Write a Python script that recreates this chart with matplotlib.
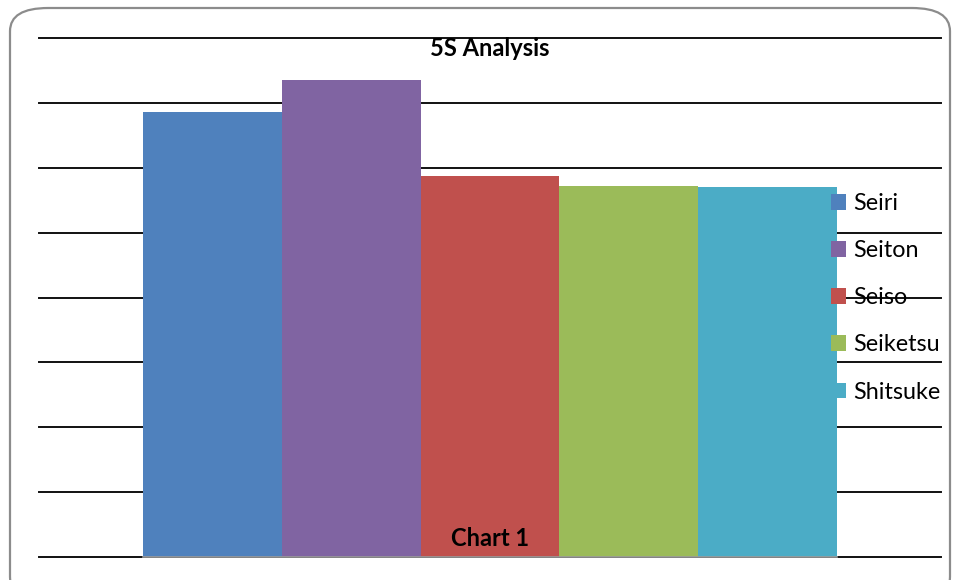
import matplotlib
matplotlib.use("Agg")
import matplotlib.pyplot as plt
from matplotlib.patches import FancyBboxPatch

# 5S scores (gridline units)
categories = ["Seiri", "Seiton", "Seiso", "Seiketsu", "Shitsuke"]
values = [6.86, 7.35, 5.87, 5.72, 5.70]
colors = ["#4F81BD", "#8064A2", "#C0504D", "#9BBB59", "#4BACC6"]

plt.rcParams['font.family'] = ['Lato', 'DejaVu Sans']

W, H = 957, 580
fig = plt.figure(figsize=(W / 100, H / 100), dpi=100)

# rounded chart border
border = FancyBboxPatch((10 / W, -20 / H), 940 / W, (H - 8 + 20) / H,
                        boxstyle="round,pad=0,rounding_size=0.04",
                        transform=fig.transFigure, facecolor="none",
                        edgecolor="#8c8c8c", linewidth=1.6, zorder=0)
fig.patches.append(border)

ax = fig.add_axes([39 / W, 23 / H, 902 / W, 519 / H])
ax.set_facecolor("none")

for i, (cat, v, c) in enumerate(zip(categories, values, colors)):
    ax.bar(i, v, width=1.0, color=c, label=cat, zorder=2)

ax.set_ylim(0, 8)
ax.set_xlim(-1.249, 5.25)
for y in range(0, 9):
    ax.axhline(y, color="#111111", linewidth=1.4, zorder=1, clip_on=False)
ax.plot([-0.5, 4.5], [0, 0], color="#9a9a9a", linewidth=1.2, zorder=3,
        clip_on=False)

ax.set_xticks([])
ax.set_yticks([])
for s in ax.spines.values():
    s.set_visible(False)

leg = ax.legend(loc="upper left", bbox_to_anchor=(831 / W, 1 - 193 / H),
                bbox_transform=fig.transFigure, frameon=False,
                fontsize=16.8, handlelength=0.65, handleheight=0.65,
                handletextpad=0.3, labelspacing=1.12, borderpad=0,
                borderaxespad=0)

fig.text(490 / W, 1 - 49 / H, "5S Analysis", ha="center", va="center",
         fontsize=17, fontweight="bold")
fig.text(490 / W, 1 - 538 / H, "Chart 1", ha="center", va="center",
         fontsize=17, fontweight="bold", zorder=5)

fig.savefig("out.png", dpi=100)
